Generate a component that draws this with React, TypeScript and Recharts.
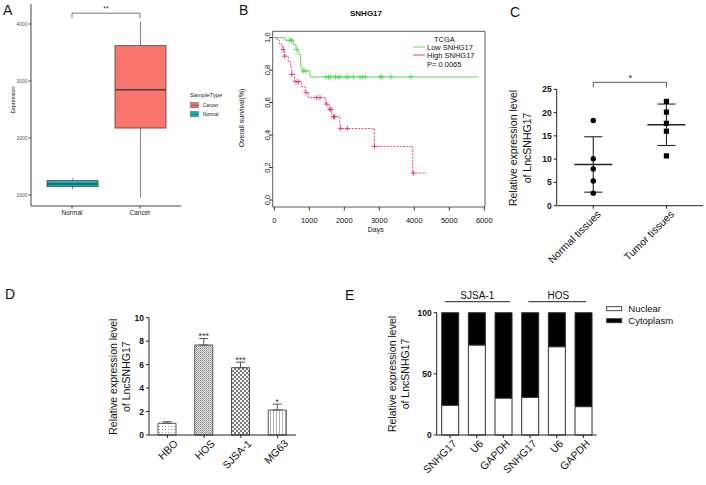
import React from "react";
import {
  ComposedChart,
  BarChart,
  Bar,
  Line,
  Scatter,
  XAxis,
  YAxis,
  ReferenceLine,
  ReferenceArea,
  ErrorBar,
  LabelList,
  Cell,
} from "recharts";

const FONT = '"Liberation Sans", Arial, Helvetica, sans-serif';

// ---- A: TCGA expression boxplot
const boxGroups = ["Normal", "Cancer"];
const boxMin = [1105, 953];
const boxQ1 = [1146, 2175];
const boxMedian = [1193, 2847];
const boxQ3 = [1251, 3620];
const boxMax = [1293, 4040];
const boxFill = ["#00BFC4", "#F8766D"];
const boxTicks = [1000, 2000, 3000, 4000];

// ---- B: Kaplan-Meier, TCGA
const lowDays = [0, 306, 543, 620, 686, 754, 790, 1020, 5830];
const lowSurv = [1, 0.984, 0.957, 0.927, 0.896, 0.825, 0.795, 0.758, 0.758];
const lowCensorDays = [449, 497, 640, 829, 886, 1480, 1550, 1610, 1750, 1820, 1880, 2050, 2110, 2260, 2450, 2530, 2600, 3030, 3080, 3330, 3900];
const lowCensorSurv = [0.984, 0.984, 0.927, 0.795, 0.795, 0.758, 0.758, 0.758, 0.758, 0.758, 0.758, 0.758, 0.758, 0.758, 0.758, 0.758, 0.758, 0.758, 0.758, 0.758, 0.758];
const highDays = [0, 80, 150, 210, 257, 290, 400, 460, 497, 580, 783, 880, 971, 1470, 1571, 1640, 1877, 2857, 3954, 4354];
const highSurv = [1, 0.985, 0.963, 0.945, 0.927, 0.886, 0.853, 0.82, 0.774, 0.729, 0.697, 0.662, 0.631, 0.59, 0.558, 0.513, 0.44, 0.33, 0.166, 0.166];
const highCensorDays = [257, 290, 497, 620, 686, 906, 1211, 1306, 1497, 1590, 1620, 1690, 1720, 1897, 2086, 2860, 3970];
const highCensorSurv = [0.927, 0.886, 0.774, 0.729, 0.729, 0.662, 0.631, 0.631, 0.59, 0.558, 0.558, 0.513, 0.513, 0.44, 0.44, 0.33, 0.166];
const dayTicks = [0, 1000, 2000, 3000, 4000, 5000, 6000];
const survTicks = [0, 0.2, 0.4, 0.6, 0.8, 1.0];

// ---- C: tissues
const tissueGroups = ["Normal tissues", "Tumor tissues"];
const normalPoints = [18.3, 10.1, 7.9, 5.3, 2.7];
const tumorPoints = [22.4, 20.1, 17.7, 16.0, 10.7];
const groupMeans = [8.86, 17.38];
const groupSD = [5.95, 4.45];
const tissueTicks = [0, 5, 10, 15, 20, 25];

// ---- D: cell lines
const cellLines = ["HBO", "HOS", "SJSA-1", "MG63"];
const cellExpr = [1.0, 7.67, 5.74, 2.13];
const cellErr = [0.13, 0.55, 0.47, 0.5];
const cellStars = ["", "***", "***", "*"];
const cellTicks = [0, 2, 4, 6, 8, 10];

// ---- E: nuclear / cytoplasm fractions
const fracLabels = ["SNHG17", "U6", "GAPDH", "SNHG17", "U6", "GAPDH"];
const nuclear = [24.3, 73.6, 30.2, 30.8, 72.2, 23.2];
const cytoplasm = [75.7, 26.4, 69.8, 69.2, 27.8, 76.8];
const fracTicks = [0, 50, 100];

const boxData = boxGroups.map((g, i) => ({ name: g, box: [boxQ1[i], boxQ3[i]] }));
const lowCurve = lowDays.map((d, i) => ({ day: d, surv: lowSurv[i] }));
const highCurve = highDays.map((d, i) => ({ day: d, surv: highSurv[i] }));
const lowCensor = lowCensorDays.map((d, i) => ({ day: d, surv: lowCensorSurv[i] }));
const highCensor = highCensorDays.map((d, i) => ({ day: d, surv: highCensorSurv[i] }));
const normalData = normalPoints.map((v) => ({ x: 1, y: v }));
const tumorData = tumorPoints.map((v) => ({ x: 2, y: v }));
const meanData = groupMeans.map((m, i) => ({ x: i + 1, y: m, sd: groupSD[i] }));
const cellData = cellLines.map((n, i) => ({
  name: n,
  expr: cellExpr[i],
  err: [0, cellErr[i]],
  star: cellStars[i],
}));
const fracData = fracLabels.map((l, i) => ({
  key: `${l}-${i}`,
  nuclear: nuclear[i],
  cytoplasm: cytoplasm[i],
}));

const RED = "#e8336f";
const GREEN = "#4bd94b";

function BoxShape(props: any) {
  const { x, y, width, height, index } = props;
  const top = Math.min(y, y + height);
  const h = Math.abs(height);
  const ppu = h / (boxQ3[index] - boxQ1[index]);
  const cx = x + width / 2;
  const yMed = top + (boxQ3[index] - boxMedian[index]) * ppu;
  const yMax = top - (boxMax[index] - boxQ3[index]) * ppu;
  const yMin = top + h + (boxQ1[index] - boxMin[index]) * ppu;
  return (
    <g>
      <line x1={cx} x2={cx} y1={yMax} y2={top} stroke="#666" strokeWidth={0.8} />
      <line x1={cx} x2={cx} y1={top + h} y2={yMin} stroke="#666" strokeWidth={0.8} />
      <rect x={x} y={top} width={width} height={h} fill={boxFill[index]} stroke="#444" strokeWidth={0.8} />
      <line x1={x} x2={x + width} y1={yMed} y2={yMed} stroke="#444" strokeWidth={1.6} />
    </g>
  );
}

const plus = (color: string) => (p: any) => (
  <path
    d={`M${p.cx - 2.6},${p.cy}H${p.cx + 2.6}M${p.cx},${p.cy - 2.6}V${p.cy + 2.6}`}
    stroke={color}
    strokeWidth={0.9}
  />
);

function SurvTick(props: any) {
  const { x, y, payload } = props;
  return (
    <text
      transform={`translate(${x + 2.5},${y}) rotate(-90)`}
      textAnchor="middle"
      fontSize={7.5}
      fontFamily={FONT}
      fill="#111"
    >
      {Number(payload.value).toFixed(1)}
    </text>
  );
}

function SlantTick(props: any) {
  const { x, y, payload, labels, dx = 0 } = props;
  const i = payload && payload.index !== undefined ? payload.index : props.index;
  const text = labels ? labels[i] : payload.value;
  const px = x + dx;
  return (
    <text
      x={px}
      y={y}
      dy={6}
      textAnchor="end"
      fontSize={10.5}
      fontFamily={FONT}
      fill="#111"
      transform={`rotate(-45 ${px} ${y})`}
    >
      {text}
    </text>
  );
}

function MeanBar(p: any) {
  return <line x1={p.cx - 19} x2={p.cx + 19} y1={p.cy} y2={p.cy} stroke="#222" strokeWidth={1.4} />;
}

function StarLabel(props: any) {
  const { x, y, width, height, index, value } = props;
  if (!value) return null;
  const ppu = height / cellExpr[index];
  const top = y - cellErr[index] * ppu;
  return (
    <text x={x + width / 2} y={top + 0.8} textAnchor="middle" fontSize={9} fontFamily={FONT} fill="#333">
      {value}
    </text>
  );
}

const boldTick = { fontSize: 8.5, fontWeight: "bold", fill: "#111", fontFamily: FONT };

function PanelA() {
  return (
    <ComposedChart width={240} height={230} data={boxData} margin={{ top: 4, right: 59, bottom: 4, left: 0 }}>
      <XAxis
        dataKey="name"
        type="category"
        padding={{ left: 7, right: 7 }}
        height={20}
        interval={0}
        tickSize={2.5}
        tickMargin={2}
        stroke="#444"
        tick={{ fontSize: 6.5, fill: "#222", fontFamily: FONT }}
      />
      <YAxis
        type="number"
        domain={[807, 4351]}
        ticks={boxTicks}
        allowDataOverflow
        width={31}
        tickSize={2.5}
        tickMargin={1}
        stroke="#444"
        tick={{ fontSize: 5, fill: "#555", fontFamily: FONT }}
      />
      <Bar dataKey="box" barSize={51} shape={(p: any) => <BoxShape {...p} />} isAnimationActive={false} />
      <ReferenceLine segment={[{ x: "Normal", y: 4190 }, { x: "Cancer", y: 4190 }]} stroke="#555" strokeWidth={0.8} ifOverflow="visible" />
      <ReferenceLine segment={[{ x: "Normal", y: 4190 }, { x: "Normal", y: 4100 }]} stroke="#555" strokeWidth={0.8} ifOverflow="visible" />
      <ReferenceLine segment={[{ x: "Cancer", y: 4190 }, { x: "Cancer", y: 4100 }]} stroke="#555" strokeWidth={0.8} ifOverflow="visible" />
    </ComposedChart>
  );
}

function PanelB() {
  return (
    <ComposedChart width={272} height={240} margin={{ top: 31.3, right: 17, bottom: 0, left: 0 }}>
      <XAxis
        type="number"
        dataKey="day"
        domain={[-46, 6020]}
        ticks={dayTicks}
        interval={0}
        allowDataOverflow
        height={33}
        axisLine={false}
        tickSize={3.5}
        tickMargin={7.5}
        tickLine={{ stroke: "#333" }}
        tick={{ fontSize: 7.5, fill: "#111", fontFamily: FONT }}
      />
      <YAxis
        type="number"
        dataKey="surv"
        domain={[-0.043, 1.039]}
        ticks={survTicks}
        interval={0}
        allowDataOverflow
        width={42.7}
        axisLine={false}
        tickSize={3.5}
        tickLine={{ stroke: "#333" }}
        tick={<SurvTick />}
      />
      <ReferenceArea x1={-46} x2={6020} y1={-0.043} y2={1.039} fill="none" stroke="#333" strokeWidth={0.8} ifOverflow="visible" />
      <Line data={lowCurve} dataKey="surv" type="stepAfter" stroke={GREEN} strokeWidth={0.9} dot={false} isAnimationActive={false} />
      <Line data={highCurve} dataKey="surv" type="stepAfter" stroke={RED} strokeWidth={0.9} strokeDasharray="2 1.3" dot={false} isAnimationActive={false} />
      <Scatter data={lowCensor} dataKey="surv" shape={plus(GREEN)} isAnimationActive={false} />
      <Scatter data={highCensor} dataKey="surv" shape={plus(RED)} isAnimationActive={false} />
    </ComposedChart>
  );
}

function PanelC() {
  return (
    <ComposedChart width={226} height={270} margin={{ top: 89.3, right: 3, bottom: 0, left: 0 }}>
      <XAxis
        type="number"
        dataKey="x"
        domain={[0.5, 2.5]}
        ticks={[1, 2]}
        interval={0}
        height={64.3}
        tickSize={3}
        stroke="#222"
        tick={<SlantTick labels={tissueGroups} dx={4} />}
      />
      <YAxis
        type="number"
        dataKey="y"
        domain={[0, 25]}
        ticks={tissueTicks}
        interval={0}
        width={76.7}
        tickSize={3}
        tickMargin={2}
        stroke="#222"
        tick={boldTick}
      />
      <ReferenceLine segment={[{ x: 1, y: 26.5 }, { x: 2, y: 26.5 }]} stroke="#444" strokeWidth={0.9} ifOverflow="visible" />
      <ReferenceLine segment={[{ x: 1, y: 26.5 }, { x: 1, y: 25.4 }]} stroke="#444" strokeWidth={0.9} ifOverflow="visible" />
      <ReferenceLine segment={[{ x: 2, y: 26.5 }, { x: 2, y: 25.4 }]} stroke="#444" strokeWidth={0.9} ifOverflow="visible" />
      <Scatter data={meanData} shape={MeanBar} isAnimationActive={false}>
        <ErrorBar dataKey="sd" direction="y" width={9} stroke="#222" strokeWidth={1.1} />
      </Scatter>
      <Scatter
        data={normalData}
        shape={(p: any) => <circle cx={p.cx} cy={p.cy} r={2.7} fill="#000" />}
        isAnimationActive={false}
      />
      <Scatter
        data={tumorData}
        shape={(p: any) => <rect x={p.cx - 2.6} y={p.cy - 2.6} width={5.2} height={5.2} fill="#000" />}
        isAnimationActive={false}
      />
    </ComposedChart>
  );
}

function PanelD() {
  return (
    <BarChart width={300} height={215} data={cellData} margin={{ top: 47.7, right: 4, bottom: 0, left: 0 }}>
      <defs>
        <pattern id="patHBO" width="3" height="3" patternUnits="userSpaceOnUse">
          <rect width="3" height="3" fill="#fff" />
          <rect width="1" height="1" fill="#9a9a9a" />
        </pattern>
        <pattern id="patHOS" width="2" height="2" patternUnits="userSpaceOnUse">
          <rect width="2" height="2" fill="#e2e2e2" />
          <rect width="1" height="1" fill="#8a8a8a" />
          <rect x="1" y="1" width="1" height="1" fill="#b0b0b0" />
        </pattern>
        <pattern id="patSJSA" width="4" height="4" patternUnits="userSpaceOnUse">
          <rect width="4" height="4" fill="#f4f4f4" />
          <rect width="2" height="2" fill="#7a7a7a" />
          <rect x="2" y="2" width="2" height="2" fill="#7a7a7a" />
        </pattern>
        <pattern id="patMG63" width="3" height="3" patternUnits="userSpaceOnUse">
          <rect width="3" height="3" fill="#fff" />
          <rect width="1" height="3" fill="#b5b5b5" />
        </pattern>
      </defs>
      <XAxis
        dataKey="name"
        type="category"
        height={50}
        interval={0}
        tickSize={3}
        stroke="#222"
        tick={<SlantTick dx={7} />}
      />
      <YAxis
        type="number"
        domain={[0, 10]}
        ticks={cellTicks}
        interval={0}
        width={149}
        tickSize={3}
        tickMargin={2}
        stroke="#222"
        tick={boldTick}
      />
      <Bar dataKey="expr" barSize={18} stroke="#555" strokeWidth={1} isAnimationActive={false}>
        {cellData.map((_, i) => (
          <Cell key={i} fill={`url(#${["patHBO", "patHOS", "patSJSA", "patMG63"][i]})`} />
        ))}
        <ErrorBar dataKey="err" direction="y" width={4.5} stroke="#555" strokeWidth={1} />
        <LabelList dataKey="star" content={(p: any) => <StarLabel {...p} />} />
      </Bar>
    </BarChart>
  );
}

function PanelE() {
  return (
    <BarChart width={406} height={215} data={fracData} margin={{ top: 42.7, right: 109.3, bottom: 0, left: 0 }}>
      <XAxis
        dataKey="key"
        type="category"
        height={50}
        interval={0}
        tickSize={3}
        stroke="#222"
        tick={<SlantTick labels={fracLabels} dx={3} />}
      />
      <YAxis
        type="number"
        domain={[0, 100]}
        ticks={fracTicks}
        interval={0}
        width={136.7}
        tickSize={3}
        tickMargin={2}
        stroke="#222"
        tick={boldTick}
      />
      <Bar dataKey="nuclear" stackId="f" barSize={17} fill="#fff" stroke="#333" strokeWidth={1} isAnimationActive={false} />
      <Bar dataKey="cytoplasm" stackId="f" barSize={17} fill="#000" stroke="#333" strokeWidth={1} isAnimationActive={false} />
    </BarChart>
  );
}

function VText({ x, y, size, children }: any) {
  return (
    <text
      transform={`translate(${x},${y}) rotate(-90)`}
      textAnchor="middle"
      dominantBaseline="central"
      fontSize={size}
      fontFamily={FONT}
      fill="#111"
    >
      {children}
    </text>
  );
}

export default function App() {
  return (
    <div
      style={{
        position: "absolute",
        left: 0,
        top: 0,
        width: 706,
        height: 485,
        background: "#fff",
        fontFamily: FONT,
        overflow: "hidden",
      }}
    >
      <div style={{ position: "absolute", left: 0, top: 0 }}>
        <PanelA />
      </div>
      <div style={{ position: "absolute", left: 230, top: 0 }}>
        <PanelB />
      </div>
      <div style={{ position: "absolute", left: 480, top: 0 }}>
        <PanelC />
      </div>
      <div style={{ position: "absolute", left: 0, top: 270 }}>
        <PanelD />
      </div>
      <div style={{ position: "absolute", left: 300, top: 270 }}>
        <PanelE />
      </div>

      <svg width={706} height={485} style={{ position: "absolute", left: 0, top: 0, pointerEvents: "none" }}>
        <g fontFamily={FONT} fill="#111" fontSize={14}>
          <text x={3} y={15}>A</text>
          <text x={239} y={15}>B</text>
          <text x={510} y={17}>C</text>
          <text x={5} y={299}>D</text>
          <text x={345} y={300}>E</text>
        </g>

        {/* A */}
        <VText x={12.7} y={100} size={5.5}>Expression</VText>
        <text x={106} y={11} textAnchor="middle" fontSize={7} fontFamily={FONT} fill="#333">**</text>
        <text x={190} y={97} fontSize={5.8} fontFamily={FONT} fill="#222">SampleType</text>
        <rect x={190.7} y={102.7} width={7.6} height={5} fill={boxFill[1]} stroke="#444" strokeWidth={0.5} />
        <line x1={190.7} x2={198.3} y1={105.2} y2={105.2} stroke="#444" strokeWidth={0.6} />
        <text x={202.7} y={106.8} fontSize={4.9} fontFamily={FONT} fill="#222">Cancer</text>
        <rect x={190.7} y={111.7} width={7.6} height={5} fill={boxFill[0]} stroke="#444" strokeWidth={0.5} />
        <line x1={190.7} x2={198.3} y1={114.2} y2={114.2} stroke="#444" strokeWidth={0.6} />
        <text x={202.7} y={115.8} fontSize={4.9} fontFamily={FONT} fill="#222">Normal</text>

        {/* B */}
        <text x={366} y={16} textAnchor="middle" fontSize={8} fontWeight="bold" fontFamily={FONT} fill="#111">SNHG17</text>
        <VText x={241.7} y={118} size={7}>Overall survival(%)</VText>
        <text x={375.7} y={232} textAnchor="middle" fontSize={7} fontFamily={FONT} fill="#111">Days</text>
        <g fontSize={7.5} fontFamily={FONT} fill="#111">
          <text x={434} y={41.6}>TCGA</text>
          <line x1={413} x2={425} y1={47} y2={47} stroke={GREEN} strokeWidth={0.9} />
          <text x={427} y={49.6}>Low SNHG17</text>
          <line x1={413} x2={425} y1={55} y2={55} stroke={RED} strokeWidth={0.9} />
          <text x={427} y={57.6}>High SNHG17</text>
          <text x={427} y={66.6}>P= 0.0065</text>
        </g>

        {/* C */}
        <text x={630.3} y={80.5} textAnchor="middle" fontSize={9.5} fontFamily={FONT} fill="#333">*</text>
        <VText x={513.3} y={148} size={10.5}>Relative expression level</VText>
        <VText x={526.7} y={148} size={10.5}>of LncSNHG17</VText>

        {/* D */}
        <VText x={113.3} y={376.7} size={10.5}>Relative expression level</VText>
        <VText x={125.5} y={376.7} size={10.5}>of LncSNHG17</VText>

        {/* E */}
        <VText x={391.7} y={374} size={10.5}>Relative expression level</VText>
        <VText x={405} y={374} size={10.5}>of LncSNHG17</VText>
        <g fontSize={10} fontFamily={FONT} fill="#111" textAnchor="middle">
          <text x={477.3} y={298.5}>SJSA-1</text>
          <text x={558.3} y={298.5}>HOS</text>
        </g>
        <line x1={445} x2={510} y1={301.7} y2={301.7} stroke="#222" strokeWidth={1} />
        <line x1={528.3} x2={586} y1={301.7} y2={301.7} stroke="#222" strokeWidth={1} />
        <rect x={606.7} y={306.7} width={15} height={4} fill="#fff" stroke="#333" strokeWidth={0.9} />
        <text x={628.3} y={312} fontSize={9.5} fontFamily={FONT} fill="#111">Nuclear</text>
        <rect x={606.7} y={318.7} width={15} height={4} fill="#000" stroke="#333" strokeWidth={0.9} />
        <text x={628.3} y={324} fontSize={9.5} fontFamily={FONT} fill="#111">Cytoplasm</text>
      </svg>
    </div>
  );
}
